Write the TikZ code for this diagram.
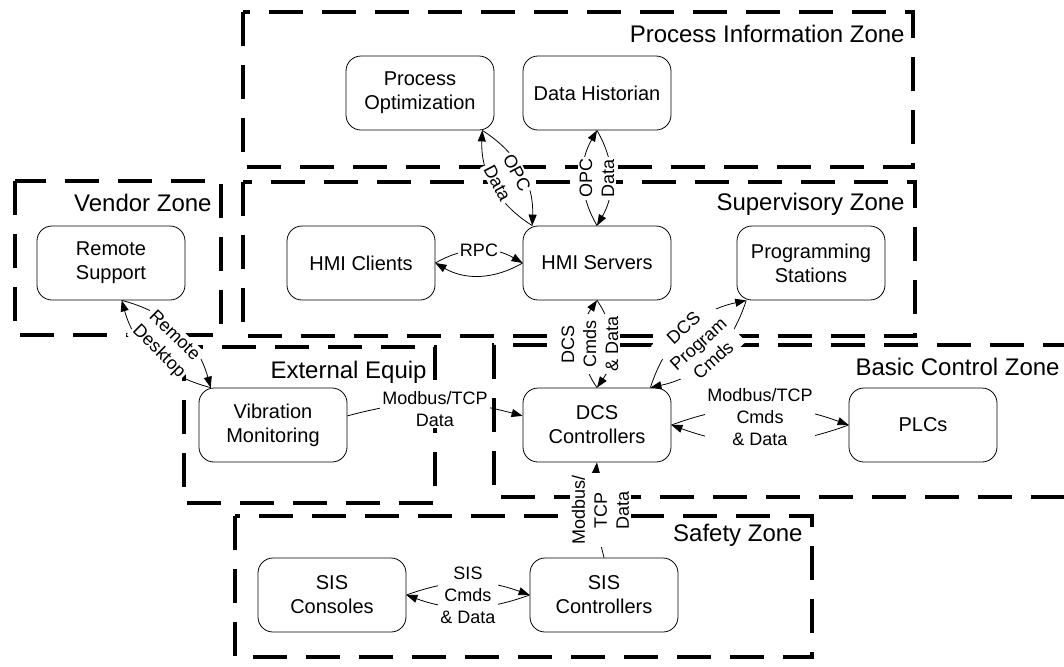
\documentclass[tikz,border=0pt]{standalone}
\usepackage{fontspec}
\setmainfont{Liberation Sans}
\usetikzlibrary{arrows.meta}

\begin{document}
\begin{tikzpicture}[x=1pt, y=1pt, node distance=85pt, >={Triangle[length=5.5pt,width=4pt]},
	box/.style={rectangle, draw, rounded corners=7.5pt, align=center, minimum width=74pt, minimum height=37pt},
	zone/.style={line width=2pt, dash pattern=on 17pt off 9.5pt},
	zonename/.style={anchor=east, font=\large, inner sep=0pt},
	lbl/.style={fill=white, inner sep=1pt, align=center, font=\small}]
	\useasboundingbox (-298.5,-201.5) rectangle (233.5,131.5);

	% nodes
	\node[box] (hmis) {HMI Servers}; %
	\node[box, above of=hmis] (hist) {Data Historian}; %
	\node[box, left of=hist, xshift=-3.5pt] (popt) {Process\\Optimization}; %
	\node[box, left of=hmis, xshift=-33pt] (hmic) {HMI Clients}; %
	\node[box, left of=hmic, xshift=-40pt] (remote) {Remote\\Support}; %
	\node[box, right of=hmis, xshift=22pt] (prog) {Programming\\Stations}; %
	\node[box, below of=hmis, yshift=4pt] (dcs) {DCS\\Controllers}; %
	\node[box, left of=dcs, xshift=-77pt] (vib) {Vibration\\Monitoring}; %
	\node[box, right of=dcs, xshift=78pt] (plc) {PLCs}; %
	\node[box, below of=dcs, xshift=3.5pt] (sisctl) {SIS\\Controllers}; %
	\node[box, left of=sisctl, xshift=-51pt] (siscon) {SIS\\Consoles}; %

	% zones
	\draw[zone] (-177,125.5) rectangle (158,48);
	\node[zonename] (pizone) at (154,114.5) {Process Information Zone};
	\draw[zone] (-177,40.5) rectangle (159,-36.5);
	\node[zonename] (supzone) at (154,29.5) {Supervisory Zone};
	\draw[zone] (-291,41) rectangle (-188,-36);
	\node[zonename] (vendzone) at (-192.5,30) {Vendor Zone};
	\draw[zone] (-206.5,-42) rectangle (-81,-120);
	\node[zonename] (extzone) at (-85,-54.5) {External Equip};
	\draw[zone] (240,-41) -| (-51.5,-117) -- (240,-117);
	\node[zonename] (bczone) at (231.5,-52) {Basic Control Zone};
	\draw[zone] (-181,-126.5) rectangle (107.5,-197);
	\node[zonename] (sfzone) at (103,-136) {Safety Zone};

	% edges
	\draw [->] (hmis.150) to [bend left=30] (popt.-31);
	\draw [->] (popt.-31) to [bend left=30] (hmis.150);
	\path (hmis.150) -- (popt.-31) node [midway, sloped, lbl] {OPC\\Data};

	\draw [->] (hmis.north) to [bend left=30] (hist.south);
	\draw [->] (hist.south) to [bend left=30] (hmis.north);
	\path (hmis.north) -- (hist.south) node [midway, rotate=90, lbl] {OPC\\Data};

	\draw [->] (hmic.east) to [bend left=30] node [lbl] {RPC} (hmis.west);
	\draw [->] (hmis.west) to [bend left=30] (hmic.east);

	\draw [->] (vib.149) to [bend left=30] (remote.-74);
	\draw [->] (remote.-74) to [bend left=30] (vib.149);
	\path (vib.149) -- (remote.-74) node [midway, sloped, lbl] {Remote\\Desktop};

	\draw [->] (vib.7) to [bend left=15] node [lbl, yshift=-3pt] {Modbus/TCP\\Data} (dcs.173);

	\draw [->] (dcs.north) to [bend left=35] (hmis.south);
	\draw [->] (hmis.south) to [bend left=35] (dcs.north);
	\path ([xshift=-3.5pt]dcs.north) -- ([xshift=-3.5pt]hmis.south) node [midway, rotate=90, lbl] {DCS\\Cmds\\\& Data};

	\draw [->] (dcs.35) to [bend left=30] (prog.-150);
	\draw [->] (prog.-150) to [bend left=30] (dcs.35);
	\path (dcs.35) -- (prog.-150) node [midway, sloped, lbl] {DCS\\Program\\Cmds};

	\draw [->] (dcs.east) to [bend left=20] (plc.west);
	\draw [->] (plc.west) to [bend left=20] (dcs.east);
	\path ([yshift=4pt]dcs.east) -- ([yshift=4pt]plc.west) node [midway, lbl] {Modbus/TCP\\Cmds\\\& Data};

	\draw [->] (sisctl.north) to [bend left=10] (dcs.south);
	\path (sisctl.north) -- (dcs.south) node [midway, rotate=90, lbl] {Modbus/\\TCP\\Data};

	\draw [->] (siscon.east) to [bend left=20] (sisctl.west);
	\draw [->] (sisctl.west) to [bend left=20] (siscon.east);
	\path (siscon.east) -- (sisctl.west) node [midway, lbl] {SIS\\Cmds\\\& Data};
\end{tikzpicture}
\end{document}
